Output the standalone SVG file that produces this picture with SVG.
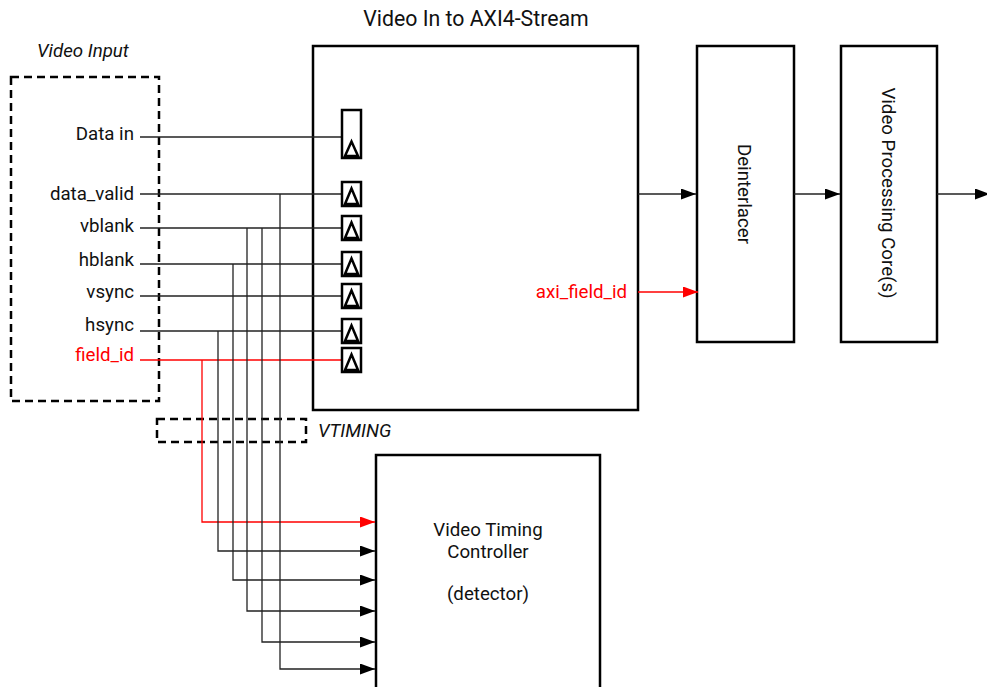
<svg xmlns="http://www.w3.org/2000/svg" xmlns:xlink="http://www.w3.org/1999/xlink" width="987" height="687" viewBox="0 0 987 687">
<style>
text{font-family:Roboto,"Liberation Sans",sans-serif;font-size:18.7px;fill:#111}
.it{font-style:italic}
.red{fill:#ff0000}
.box{fill:#fff;stroke:#000;stroke-width:2.5}
.dash{fill:none;stroke:#000;stroke-width:2.5;stroke-dasharray:8,5}
.reg{fill:#fff;stroke:#000;stroke-width:2.5}
.w{fill:none;stroke:#222;stroke-width:1.3}
.wr{fill:none;stroke:#ff0000;stroke-width:1.3}
</style>
<defs>
<marker id="ah" markerUnits="userSpaceOnUse" markerWidth="15" markerHeight="11" refX="15" refY="5.5" orient="auto"><path d="M0,0 L15,5.5 L0,11 Z" fill="#000"/></marker>
<marker id="ahr" markerUnits="userSpaceOnUse" markerWidth="15" markerHeight="11" refX="15" refY="5.5" orient="auto"><path d="M0,0 L15,5.5 L0,11 Z" fill="#ff0000"/></marker>
<g id="reg"><rect class="reg" x="0" y="0" width="19" height="24"/><path class="reg" d="M3,22 L9.5,6.5 L16,22 Z"/></g>
</defs>

<text x="476" y="26" text-anchor="middle" style="font-size:21.3px">Video In to AXI4-Stream</text>

<g id="video-input">
<rect class="dash" x="11" y="77" width="148" height="324"/>
<text class="it" x="37" y="57">Video Input</text>
<text x="134" y="140" text-anchor="end">Data in</text>
<text x="134" y="200" text-anchor="end">data_valid</text>
<text x="134" y="232" text-anchor="end">vblank</text>
<text x="134" y="266" text-anchor="end">hblank</text>
<text x="134" y="298" text-anchor="end">vsync</text>
<text x="134" y="331" text-anchor="end">hsync</text>
<text class="red" x="134" y="361" text-anchor="end">field_id</text>
</g>

<g id="vtiming">
<rect class="dash" x="157" y="419" width="149" height="23"/>
<text class="it" x="318" y="437">VTIMING</text>
</g>

<g id="video-in-axi">
<rect class="box" x="313" y="46" width="325" height="364"/>
<text class="red" x="627" y="298" text-anchor="end">axi_field_id</text>
</g>

<g id="deinterlacer">
<rect class="box" x="697" y="46" width="97" height="296"/>
<text transform="translate(745,194) rotate(90)" text-anchor="middle" dy="7">Deinterlacer</text>
</g>

<g id="video-processing">
<rect class="box" x="841" y="46" width="96" height="296"/>
<text transform="translate(889,193) rotate(90)" text-anchor="middle" dy="7">Video Processing Core(s)</text>
</g>

<g id="vtc">
<rect class="box" x="376" y="455" width="224" height="250"/>
<text x="488" y="536" text-anchor="middle">Video Timing</text>
<text x="488" y="558" text-anchor="middle">Controller</text>
<text x="488" y="600" text-anchor="middle">(detector)</text>
</g>

<g id="connectors">
<path class="w" d="M140,137 H342"/>
<path class="w" d="M140,194 H342"/>
<path class="w" d="M140,228 H342"/>
<path class="w" d="M140,264 H342"/>
<path class="w" d="M140,296 H342"/>
<path class="w" d="M140,331 H342"/>
<path class="wr" d="M140,360 H342"/>
<path class="wr" d="M202,360 V522 H375" marker-end="url(#ahr)"/>
<path class="w" d="M218,331 V551 H375" marker-end="url(#ah)"/>
<path class="w" d="M233,264 V580 H375" marker-end="url(#ah)"/>
<path class="w" d="M247,228 V611 H375" marker-end="url(#ah)"/>
<path class="w" d="M262,228 V642 H375" marker-end="url(#ah)"/>
<path class="w" d="M280,194 V669 H375" marker-end="url(#ah)"/>
<path class="w" d="M638,194 H696" marker-end="url(#ah)"/>
<path class="wr" d="M638,292 H698" marker-end="url(#ahr)"/>
<path class="w" d="M794,194 H840" marker-end="url(#ah)"/>
<path class="w" d="M937,194 H990" marker-end="url(#ah)"/>
</g>

<g id="registers">
<rect class="reg" x="342" y="110" width="19" height="48"/>
<path class="reg" d="M345,156 L351.5,141.5 L358,156 Z"/>
<use xlink:href="#reg" x="342" y="182"/>
<use xlink:href="#reg" x="342" y="216"/>
<use xlink:href="#reg" x="342" y="252"/>
<use xlink:href="#reg" x="342" y="284"/>
<use xlink:href="#reg" x="342" y="319"/>
<use xlink:href="#reg" x="342" y="348"/>
</g>
</svg>
